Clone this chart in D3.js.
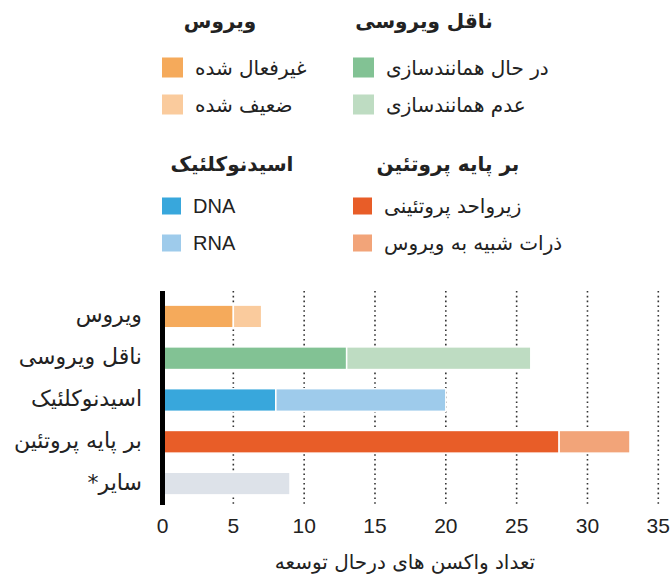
<!DOCTYPE html>
<html>
<head>
<meta charset="utf-8">
<script src="https://cdn.jsdelivr.net/npm/d3@7"></script>
<style>
  body { margin: 0; background: #fff; }
  svg { display: block; }
  .fa { font-family: "DejaVu Sans", sans-serif; fill: #222; }
  .num { font-family: "Liberation Sans", Arial, sans-serif; fill: #222; }
</style>
</head>
<body>
<script>
// data
var categories = ["ویروس", "ناقل ویروسی", "اسیدنوکلئیک", "بر پایه پروتئین", "سایر*"];
var firstPart = [5, 13, 8, 28, 9];
var secondPart = [2, 13, 12, 5, 0];
var xTicks = [0, 5, 10, 15, 20, 25, 30, 35];
var axisTitle = "تعداد واکسن های درحال توسعه";

var groupTitles = ["ویروس", "ناقل ویروسی", "اسیدنوکلئیک", "بر پایه پروتئین"];
var groupItems = [
  ["غیرفعال شده", "ضعیف شده"],
  ["در حال همانندسازی", "عدم همانندسازی"],
  ["DNA", "RNA"],
  ["زیرواحد پروتئینی", "ذرات شبیه به ویروس"]
];
var darkColors = ["#f5aa5b", "#82c294", "#38a7dc", "#e85d28", "#dde2e9"];
var lightColors = ["#facb9d", "#bedcc2", "#9ecbeb", "#f2a479", "#dde2e9"];

var width = 672, height = 582;
var RLM = "\u200F";

var svg = d3.select("body").append("svg")
  .attr("width", width)
  .attr("height", height);

var x = d3.scaleLinear().domain([0, 35]).range([162.5, 658.3]);
var y = d3.scaleBand().domain(categories).range([286, 514]).padding(0.457);

var gridTop = 291, gridBottom = 506;

// dotted grid
svg.append("g")
  .selectAll("line")
  .data(xTicks.filter(function(d) { return d > 0; }))
  .join("line")
  .attr("x1", function(d) { return x(d); })
  .attr("x2", function(d) { return x(d); })
  .attr("y1", gridTop)
  .attr("y2", gridBottom)
  .attr("stroke", "#333")
  .attr("stroke-width", 1.6)
  .attr("stroke-dasharray", "1.6,3.2");

// stacked bars
var rows = categories.map(function(c, i) {
  return {cat: c, a: firstPart[i], b: secondPart[i]};
});
var stack = d3.stack().keys(["a", "b"])(rows);

svg.append("g")
  .selectAll("g")
  .data(stack)
  .join("g")
  .selectAll("rect")
  .data(function(s) {
    return s.map(function(d, i) { return {d: d, i: i, key: s.key}; });
  })
  .join("rect")
  .filter(function(p) { return p.d[1] > p.d[0]; })
  .attr("x", function(p) { return x(p.d[0]); })
  .attr("width", function(p) { return x(p.d[1]) - x(p.d[0]); })
  .attr("y", function(p) { return y(p.d.data.cat); })
  .attr("height", y.bandwidth())
  .attr("fill", function(p) { return p.key === "a" ? darkColors[p.i] : lightColors[p.i]; })
  .attr("stroke", "#fff")
  .attr("stroke-width", 1.5);

// zero line
svg.append("line")
  .attr("x1", x(0)).attr("x2", x(0))
  .attr("y1", gridTop).attr("y2", gridBottom - 1)
  .attr("stroke", "#000")
  .attr("stroke-width", 5);

// x tick labels
svg.append("g")
  .selectAll("text")
  .data(xTicks)
  .join("text")
  .attr("class", "num")
  .attr("x", function(d) { return x(d); })
  .attr("y", 533)
  .attr("text-anchor", "middle")
  .style("font-size", "21px")
  .text(function(d) { return d; });

// axis title
svg.append("text")
  .attr("class", "fa")
  .attr("x", 405)
  .attr("y", 569)
  .attr("text-anchor", "middle")
  .style("font-size", "20px")
  .text(axisTitle);

// category labels
svg.append("g")
  .selectAll("text")
  .data(categories)
  .join("text")
  .attr("class", "fa")
  .attr("x", 142)
  .attr("y", function(d) { return y(d) + y.bandwidth() / 2 + 6; })
  .attr("text-anchor", "end")
  .style("font-size", "22px")
  .text(function(d) { return d + RLM; });

// legend
var colX = [162, 353];
var blocks = [
  {titleY: 28, rowY: [67.5, 104.5], sw: 21, sh: 20},
  {titleY: 171, rowY: [206, 243], sw: 19, sh: 17}
];
var titleCenters = [220, 424, 232, 448];

groupTitles.forEach(function(t, g) {
  var b = blocks[Math.floor(g / 2)];
  var cx = colX[g % 2];
  var lg = svg.append("g");

  lg.append("text")
    .attr("class", "fa")
    .attr("x", titleCenters[g])
    .attr("y", b.titleY)
    .attr("text-anchor", "middle")
    .style("font-size", "20px")
    .style("font-weight", "bold")
    .text(t);

  groupItems[g].forEach(function(item, k) {
    var cy = b.rowY[k];
    var latin = /[A-Z]/.test(item);
    lg.append("rect")
      .attr("x", cx)
      .attr("y", cy - b.sh / 2)
      .attr("width", b.sw)
      .attr("height", b.sh)
      .attr("fill", k === 0 ? darkColors[g] : lightColors[g]);
    lg.append("text")
      .attr("class", latin ? "num" : "fa")
      .attr("x", cx + b.sw + 12)
      .attr("y", cy + 7)
      .attr("text-anchor", "start")
      .style("font-size", "20px")
      .text(item);
  });
});
</script>
</body>
</html>
